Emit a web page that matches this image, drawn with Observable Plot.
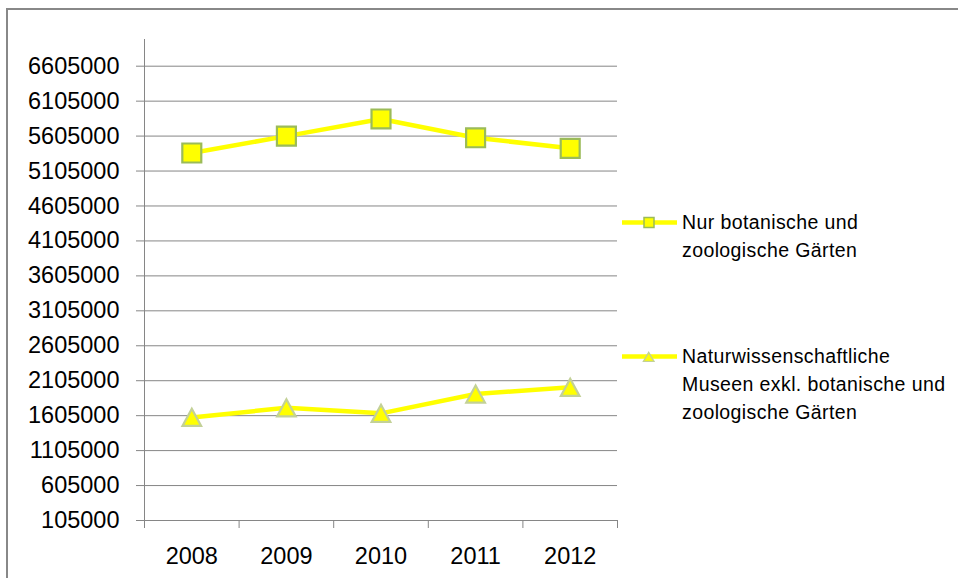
<!DOCTYPE html>
<html>
<head>
<meta charset="utf-8">
<script src="https://cdn.jsdelivr.net/npm/d3@7"></script>
<script src="https://cdn.jsdelivr.net/npm/@observablehq/plot@0.6"></script>
<style>
  html, body { margin: 0; padding: 0; background: #fff; overflow: hidden; }
  #wrap { position: relative; width: 958px; height: 578px; overflow: hidden; font-family: "Liberation Sans", Arial, sans-serif; }
  #frame { position: absolute; left: 6px; top: 8px; width: 1200px; height: 900px; border-left: 2px solid #888; border-top: 2px solid #888; pointer-events: none; }
  #chart { position: absolute; left: 0; top: 0; }
  .leg-sw { position: absolute; }
  .leg-tx { position: absolute; left: 682px; font-size: 19.5px; line-height: 28px; letter-spacing: 0.4px; color: #000; white-space: nowrap; }
</style>
</head>
<body>
<div id="wrap">
  <div id="chart"></div>
  <div id="legend"></div>
  <div id="frame"></div>
</div>
<script>
// ---- data ----
const years = [2008, 2009, 2010, 2011, 2012];
const gaerten = [5363000, 5605000, 5850000, 5581000, 5430000];
const museen = [1580000, 1717000, 1638000, 1915000, 2010000];
const yTicks = [105000, 605000, 1105000, 1605000, 2105000, 2605000, 3105000, 3605000, 4105000, 4605000, 5105000, 5605000, 6105000, 6605000];
const seriesNames = ["Nur botanische und zoologische Gärten", "Naturwissenschaftliche Museen exkl. botanische und zoologische Gärten"];
const legendLines = [["Nur botanische und", "zoologische Gärten"], ["Naturwissenschaftliche", "Museen exkl. botanische und", "zoologische Gärten"]];

// ---- tables ----
const rowsG = years.map((yr, i) => ({year: yr, value: gaerten[i]}));
const rowsM = years.map((yr, i) => ({year: yr, value: museen[i]}));
const bounds = [years[0] - 0.5, ...years.map(y => y + 0.5)];

const yellow = "#FFFF00";
const gridGray = "#868686";

const triangleSym = {
  draw(ctx, size) {
    const a = Math.sqrt(size) * 1.5;
    const h = a * 0.92;
    ctx.moveTo(0, -h / 2);
    ctx.lineTo(a / 2, h / 2);
    ctx.lineTo(-a / 2, h / 2);
    ctx.closePath();
  }
};

const chart = Plot.plot({
  width: 958,
  height: 578,
  marginLeft: 144,
  marginRight: 341,
  marginTop: 39,
  marginBottom: 58,
  x: {type: "linear", domain: [bounds[0], bounds[bounds.length - 1]], axis: null, label: null},
  y: {type: "linear", domain: [yTicks[0], 6987000], axis: null, label: null},
  style: {fontFamily: "Liberation Sans, Arial, sans-serif", fontSize: "23.5px", color: "#000", background: "transparent", overflow: "visible"},
  marks: [
    Plot.ruleY(yTicks, {stroke: gridGray, strokeWidth: 1}),
    Plot.ruleX([bounds[0]], {stroke: gridGray, strokeWidth: 1}),
    Plot.axisY({ticks: yTicks, tickSize: 8, tickPadding: 17, tickFormat: d => String(d), stroke: gridGray, fill: "#000", letterSpacing: "0.6px", label: null}),
    Plot.axisX({ticks: bounds, tickSize: 8, tickFormat: () => "", stroke: gridGray, label: null}),
    Plot.axisX({ticks: years, tickSize: 0, tickPadding: 27, tickFormat: d => String(d), fill: "#000", letterSpacing: "0.6px", label: null}),
    Plot.line(rowsG, {x: "year", y: "value", stroke: yellow, strokeWidth: 4.5}),
    Plot.line(rowsM, {x: "year", y: "value", stroke: yellow, strokeWidth: 4.5}),
    Plot.dot(rowsG, {x: "year", y: "value", symbol: "square", r: 10.7, fill: yellow, stroke: "#9BBB59", strokeWidth: 2.2}),
    Plot.dot(rowsM, {x: "year", y: "value", symbol: triangleSym, r: 7, fill: yellow, stroke: "#C3D197", strokeWidth: 2.2})
  ]
});
document.getElementById("chart").appendChild(chart);

// ---- legend ----
const legend = document.getElementById("legend");
const legendTops = [{sw: 214, tx: 207.5, kind: "square"}, {sw: 347.5, tx: 342, kind: "triangle"}];
legendTops.forEach((cfg, i) => {
  const ns = "http://www.w3.org/2000/svg";
  const svg = document.createElementNS(ns, "svg");
  svg.setAttribute("class", "leg-sw");
  svg.setAttribute("width", 58);
  svg.setAttribute("height", 18);
  svg.style.left = "621px";
  svg.style.top = cfg.sw + "px";
  const ln = document.createElementNS(ns, "line");
  ln.setAttribute("x1", 1); ln.setAttribute("x2", 56);
  ln.setAttribute("y1", 8.5); ln.setAttribute("y2", 8.5);
  ln.setAttribute("stroke", yellow); ln.setAttribute("stroke-width", 4.5);
  svg.appendChild(ln);
  if (cfg.kind === "square") {
    const r = document.createElementNS(ns, "rect");
    r.setAttribute("x", 23); r.setAttribute("y", 3.5);
    r.setAttribute("width", 10); r.setAttribute("height", 10);
    r.setAttribute("fill", yellow); r.setAttribute("stroke", "#9BBB59"); r.setAttribute("stroke-width", 1.5);
    svg.appendChild(r);
  } else {
    const p = document.createElementNS(ns, "path");
    p.setAttribute("d", "M27.7,4.3 L33,13.3 L22.4,13.3 Z");
    p.setAttribute("fill", yellow); p.setAttribute("stroke", "#C3D197"); p.setAttribute("stroke-width", 1.3);
    svg.appendChild(p);
  }
  legend.appendChild(svg);
  const tx = document.createElement("div");
  tx.className = "leg-tx";
  tx.style.top = cfg.tx + "px";
  tx.setAttribute("title", seriesNames[i]);
  tx.innerHTML = legendLines[i].join("<br>");
  legend.appendChild(tx);
});
</script>
</body>
</html>
